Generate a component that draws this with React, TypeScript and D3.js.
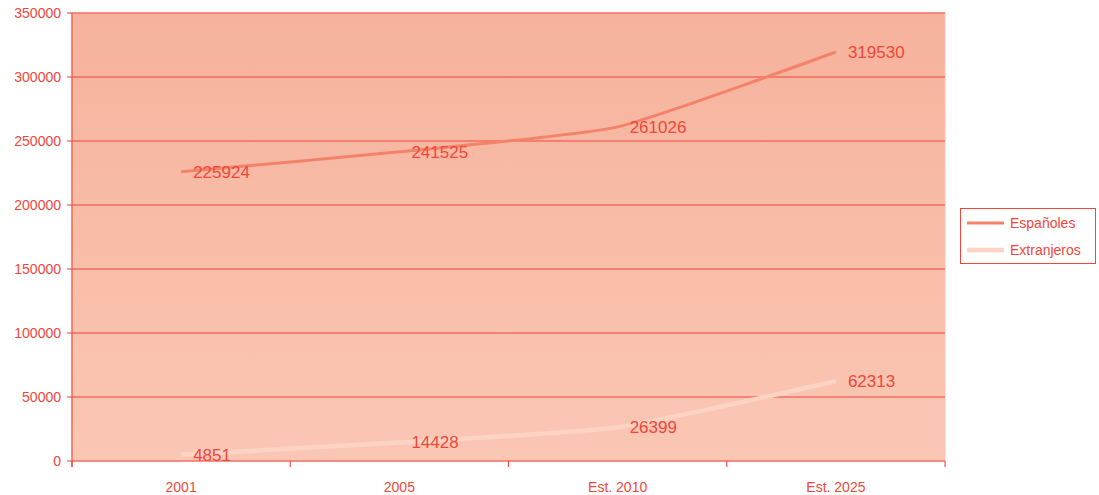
import React from "react";
import * as d3 from "d3";

const categories = ["2001", "2005", "Est. 2010", "Est. 2025"];
const espanoles = [225924, 241525, 261026, 319530];
const extranjeros = [4851, 14428, 26399, 62313];
const yTicks = [0, 50000, 100000, 150000, 200000, 250000, 300000, 350000];
const seriesNames = ["Españoles", "Extranjeros"];

const W = 1099, H = 495;
const left = 72, right = 945, top = 13, bottom = 461;
const red = "#f0473a";
const colors = ["#f4826a", "#fdd3c4"];
const widths = [3, 4.5];

export default function App() {
  const x = d3.scaleBand<string>().domain(categories).range([left, right]);
  const y = d3.scaleLinear().domain([0, 350000]).range([bottom, top]);
  const series = [espanoles, extranjeros];
  const line = d3
    .line<number>()
    .x((_, i) => (x(categories[i]) as number) + x.bandwidth() / 2)
    .y((v) => y(v))
    .curve(d3.curveCardinal.tension(0.5));
  const font = "'Liberation Sans', Arial, sans-serif";
  const ticksX = [...categories.map((c) => x(c) as number), right];
  return (
    <svg width={W} height={H} style={{ position: "absolute", left: 0, top: 0 }} fontFamily={font}>
      <defs>
        <linearGradient id="bg" x1="0" y1="0" x2="0" y2="1">
          <stop offset="0" stopColor="#f6b29c" />
          <stop offset="1" stopColor="#fac7b4" />
        </linearGradient>
      </defs>
      <rect x={left} y={top} width={right - left} height={bottom - top} fill="url(#bg)" stroke="#fbc3b2" strokeWidth={1} />
      {yTicks.map((t) => (
        <g key={t}>
          {t > 0 && <line x1={left} x2={right} y1={y(t)} y2={y(t)} stroke={red} strokeWidth={1.1} />}
          <line x1={left - 5} x2={left} y1={y(t)} y2={y(t)} stroke={red} strokeWidth={1.1} />
          <text x={left - 11} y={y(t)} dy="0.35em" textAnchor="end" fontSize={14} fill={red}>
            {t}
          </text>
        </g>
      ))}
      <line x1={left} x2={left} y1={top} y2={bottom + 6} stroke={red} strokeWidth={1.1} />
      <line x1={left} x2={right} y1={bottom} y2={bottom} stroke={red} strokeWidth={1.1} />
      {ticksX.map((tx, i) => (
        <line key={i} x1={tx} x2={tx} y1={bottom} y2={bottom + 6} stroke={red} strokeWidth={1.1} />
      ))}
      {categories.map((c) => (
        <text key={c} x={(x(c) as number) + x.bandwidth() / 2} y={bottom + 26} dy="0.35em" textAnchor="middle" fontSize={14} fill={red}>
          {c}
        </text>
      ))}
      {series.map((s, si) => (
        <path key={si} d={line(s) as string} fill="none" stroke={colors[si]} strokeWidth={widths[si]} />
      ))}
      {series.map((s, si) =>
        s.map((v, i) => (
          <text key={si + "-" + i} x={(x(categories[i]) as number) + x.bandwidth() / 2 + 12} y={y(v)} dy="0.35em" fontSize={17} fill={red}>
            {v}
          </text>
        ))
      )}
      <rect x={960.5} y={208.5} width={135} height={55} fill="#ffffff" stroke={red} strokeWidth={1} />
      {seriesNames.map((n, i) => (
        <g key={n}>
          <line x1={967} x2={1004} y1={223 + i * 27} y2={223 + i * 27} stroke={colors[i]} strokeWidth={widths[i]} />
          <text x={1010} y={223 + i * 27} dy="0.35em" fontSize={14} fill={red}>
            {n}
          </text>
        </g>
      ))}
    </svg>
  );
}
